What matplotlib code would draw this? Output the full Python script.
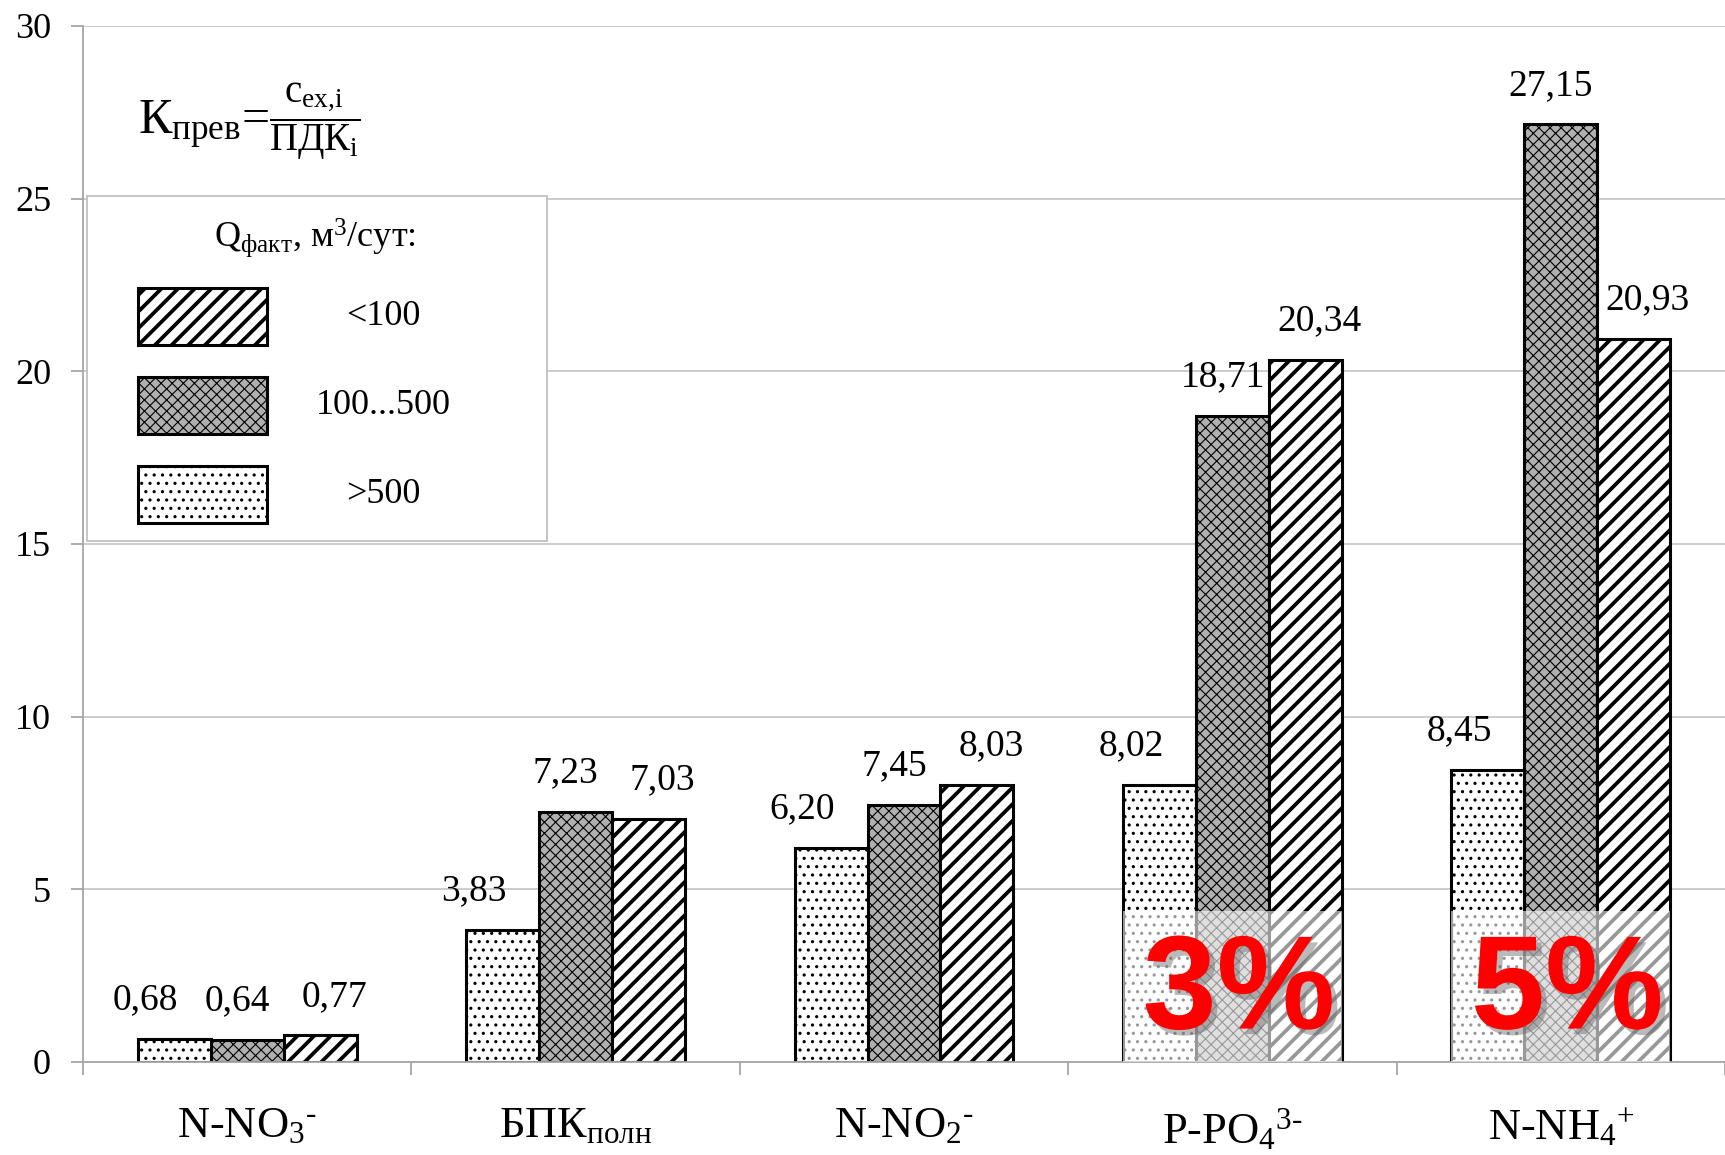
import matplotlib.pyplot as plt
import matplotlib.patheffects as pe
import numpy as np
from matplotlib.patches import Rectangle

plt.rcParams["font.family"] = ["Liberation Serif", "DejaVu Serif"]
plt.rcParams["mathtext.fontset"] = "custom"
plt.rcParams["mathtext.rm"] = "Liberation Serif"
plt.rcParams["mathtext.it"] = "Liberation Serif:italic"
plt.rcParams["mathtext.bf"] = "Liberation Serif:bold"

# data
CATEGORIES = [
    r"N-NO$_3{}^{\mathrm{‐}}$",
    r"БПК$_{\mathrm{полн}}$",
    r"N-NO$_2{}^{\mathrm{‐}}$",
    r"P-PO$_4{}^{\mathrm{3‐}}$",
    r"N-NH$_4{}^{+}$",
]
SERIES = [">500", "100...500", "<100"]
Q_OVER_500 = [0.68, 3.83, 6.20, 8.02, 8.45]
Q_100_500 = [0.64, 7.23, 7.45, 18.71, 27.15]
Q_UNDER_100 = [0.77, 7.03, 8.03, 20.34, 20.93]
Y_TICKS = [0, 5, 10, 15, 20, 25, 30]
SHARE_CATS = [3, 4]
SHARE_LABELS = ["3%", "5%"]
SHARE_LEVEL = 4.37

GRID = "#c8c8c8"
AXIS = "#a6a6a6"

# bar styles: facecolor, hatch, hatch linewidth
STYLES = [
    ("white", "..", 1.1),
    ("#b0b0b0", "xxx", 0.8),
    ("white", "//", 2.7),
]
LABEL_SHIFT = [-0.087, -0.03, 0.043]


def styled_rect(ax, xy, w, h, style, **kw):
    face, hatch, hlw = style
    with plt.rc_context({"hatch.linewidth": hlw}):
        r = Rectangle(xy, w, h, facecolor=face, hatch=hatch, edgecolor="black",
                      linewidth=2.2, **kw)
        if hasattr(r, "set_hatch_linewidth"):
            r.set_hatch_linewidth(hlw)
        ax.add_patch(r)
    return r


def main() -> None:
    fig = plt.figure(figsize=(17.25, 11.55), dpi=100)
    ax = fig.add_axes([83 / 1725, 1 - 1062 / 1155, 1 - 83 / 1725, (1062 - 26) / 1155])

    x = np.arange(len(CATEGORIES))
    width = 0.222
    values = [Q_OVER_500, Q_100_500, Q_UNDER_100]

    for i, (vals, style) in enumerate(zip(values, STYLES)):
        face, hatch, hlw = style
        with plt.rc_context({"hatch.linewidth": hlw}):
            bars = ax.bar(x + (i - 1) * width, vals, width, color=face, hatch=hatch,
                          edgecolor="black", linewidth=2.2, zorder=2)
            for b in bars:
                if hasattr(b, "set_hatch_linewidth"):
                    b.set_hatch_linewidth(hlw)
        for xi, v in zip(x, vals):
            ax.annotate(f"{v:.2f}".replace(".", ","),
                        xy=(xi + (i - 1) * width + LABEL_SHIFT[i], v),
                        xytext=(0, 28), textcoords="offset points",
                        ha="center", va="center", fontsize=27)

    # faded lower part with share labels
    for ci, lab in zip(SHARE_CATS, SHARE_LABELS):
        ax.add_patch(Rectangle((ci - 1.5 * width, 0), 3 * width, SHARE_LEVEL,
                               facecolor="white", alpha=0.6, edgecolor="none", zorder=3))
        ax.text(ci + 0.02, SHARE_LEVEL * 0.45, lab, ha="center", va="center",
                fontsize=96, fontweight="bold", family="Liberation Sans",
                color="#ff0000", zorder=4,
                path_effects=[pe.withSimplePatchShadow(offset=(4, -4),
                                                       shadow_rgbFace="#666666",
                                                       alpha=0.45)])

    ax.set_xlim(-0.5, 4.5 - 11 / 330)
    ax.set_ylim(0, 30)
    ax.set_yticks(Y_TICKS)
    ax.set_yticklabels([str(t) for t in Y_TICKS], fontsize=26)
    ax.set_xticks(np.arange(-0.5, len(CATEGORIES), 1))
    ax.set_xticklabels([])
    ax.set_xticks(x, CATEGORIES, minor=True, fontsize=32)
    ax.tick_params(axis="x", which="minor", length=0, pad=32)
    ax.tick_params(axis="both", which="major", color=AXIS, width=1.3, length=9)
    ax.tick_params(axis="y", pad=14)

    ax.yaxis.grid(True, color=GRID, linewidth=1.3)
    ax.set_axisbelow(True)
    for s in ["top", "right"]:
        ax.spines[s].set_visible(False)
    for s in ["left", "bottom"]:
        ax.spines[s].set_color(AXIS)
        ax.spines[s].set_linewidth(1.3)

    # formula
    t1 = ax.text(0.0335, 0.896, r"К$_{\mathrm{прев}}$=", transform=ax.transAxes,
                 fontsize=36, ha="left", va="baseline")
    ax.annotate(r"$\dfrac{\mathrm{c}_{\mathrm{ex{,}i}}}{\mathrm{ПДК}_{\mathrm{i}}}$",
                xy=(1.0, 0.908), xycoords=(t1, "axes fraction"),
                fontsize=28, ha="left", va="center")

    # legend box
    tr = ax.transAxes
    ax.add_patch(Rectangle((0.0024, 0.503), 0.28, 0.333, transform=tr, facecolor="white",
                           edgecolor="#c0c0c0", linewidth=1.3, zorder=5, clip_on=False))
    ax.text(0.141, 0.796, r"Q$_{\mathrm{факт}}$, м$^{3}$/сут:", transform=tr,
            ha="center", va="center", fontsize=26, zorder=6)
    for row, i in enumerate([2, 1, 0]):
        yb = 0.692 - row * 0.086
        styled_rect(ax, (0.0335, yb), 0.0786, 0.055, STYLES[i], transform=tr,
                    zorder=6, clip_on=False)
        ax.text(0.183, yb + 0.028, SERIES[i], transform=tr, ha="center", va="center",
                fontsize=26, zorder=6)

    fig.savefig("out.png", dpi=100)
    plt.close(fig)


if __name__ == "__main__":
    main()
